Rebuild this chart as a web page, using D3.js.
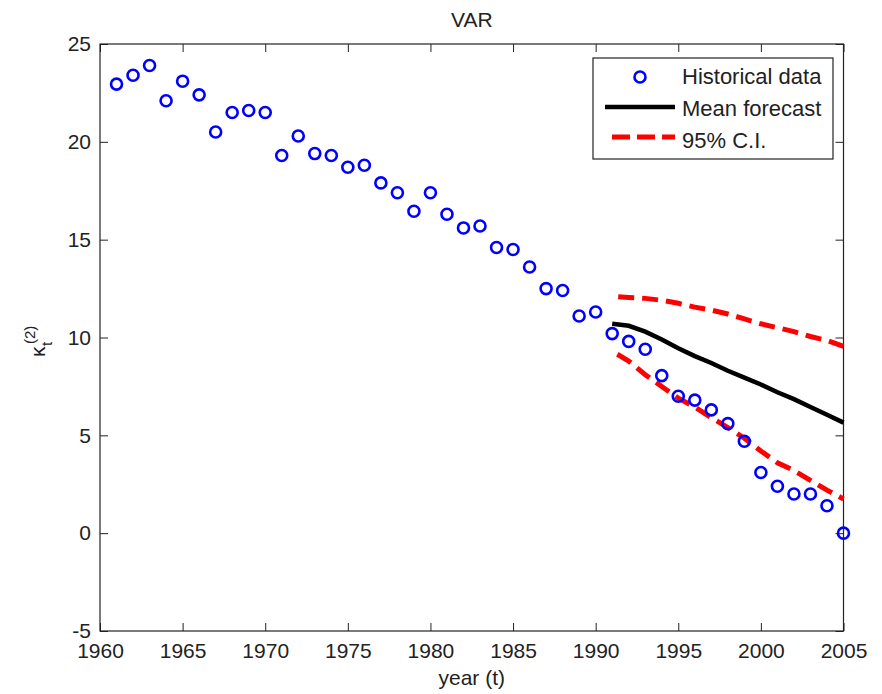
<!DOCTYPE html>
<html>
<head>
<meta charset="utf-8">
<script src="https://cdn.jsdelivr.net/npm/d3@7"></script>
<style>
  body { margin: 0; background: #fff; }
  svg { display: block; font-family: "Liberation Sans", Arial, sans-serif; }
</style>
</head>
<body>
<svg id="chart" width="882" height="694"></svg>
<script>
// Historical data (kappa_t^(2)), 1961-2005
const histYears = d3.range(1961, 2006);
const histValues = [
  22.95, 23.4, 23.9, 22.1, 23.1, 22.4, 20.5, 21.5, 21.6, 21.5,
  19.3, 20.3, 19.4, 19.3, 18.7, 18.8, 17.9, 17.4, 16.45, 17.4,
  16.3, 15.6, 15.7, 14.6, 14.5, 13.6, 12.5, 12.4, 11.1, 11.3,
  10.2, 9.8, 9.4, 8.05, 7.0, 6.8, 6.3, 5.6, 4.7, 3.1,
  2.4, 2.0, 2.0, 1.4, 0.0
];

// Forecast, 1991-2005
const fcYears = d3.range(1991, 2006);
const meanForecast = [10.7, 10.6, 10.3, 9.9, 9.45, 9.05, 8.7, 8.3, 7.95, 7.6, 7.2, 6.85, 6.45, 6.05, 5.65];
const upperCI = [12.1, 12.05, 12.0, 11.9, 11.75, 11.55, 11.4, 11.2, 10.95, 10.7, 10.5, 10.3, 10.05, 9.85, 9.55];
const lowerCI = [9.3, 8.8, 8.1, 7.5, 6.9, 6.45, 5.9, 5.4, 4.85, 4.2, 3.6, 3.2, 2.7, 2.2, 1.75];

const xTicks = d3.range(1960, 2006, 5);
const yTicks = [-5, 0, 5, 10, 15, 20, 25];

const svg = d3.select('#chart');
const plotLeft = 100, plotRight = 843.5, plotTop = 44, plotBottom = 631;
const axisColor = '#222';
const fontSize = 21;

const x = d3.scaleLinear().domain([1960, 2005]).range([plotLeft, plotRight]);
const y = d3.scaleLinear().domain([-5, 25]).range([plotBottom, plotTop]);

// axes: MATLAB style, ticks pointing inward on all four sides
const tickLen = 8;
function styleAxis(g) {
  g.select('.domain').remove();
  g.selectAll('line').attr('stroke', axisColor);
  g.selectAll('text').attr('fill', axisColor).style('font-size', fontSize + 'px');
  g.attr('font-family', null).attr('font-size', null);
}

svg.append('g')
  .attr('transform', `translate(0,${plotBottom})`)
  .call(d3.axisBottom(x).tickValues(xTicks).tickFormat(d => String(d)).tickSizeInner(-tickLen).tickSizeOuter(0).tickPadding(12))
  .call(styleAxis);

svg.append('g')
  .attr('transform', `translate(0,${plotTop})`)
  .call(d3.axisTop(x).tickValues(xTicks).tickFormat('').tickSizeInner(-tickLen).tickSizeOuter(0))
  .call(styleAxis);

svg.append('g')
  .attr('transform', `translate(${plotLeft},0)`)
  .call(d3.axisLeft(y).tickValues(yTicks).tickFormat(d => String(d)).tickSizeInner(-tickLen).tickSizeOuter(0).tickPadding(9))
  .call(styleAxis);

svg.append('g')
  .attr('transform', `translate(${plotRight},0)`)
  .call(d3.axisRight(y).tickValues(yTicks).tickFormat('').tickSizeInner(-tickLen).tickSizeOuter(0))
  .call(styleAxis);

// axes box
svg.append('rect')
  .attr('x', plotLeft).attr('y', plotTop)
  .attr('width', plotRight - plotLeft).attr('height', plotBottom - plotTop)
  .attr('fill', 'none').attr('stroke', axisColor).attr('stroke-width', 1.2);

// forecast lines
const line = d3.line().x((d, i) => x(fcYears[i])).y(d => y(d));

svg.append('path')
  .datum(upperCI)
  .attr('d', line)
  .attr('fill', 'none').attr('stroke', '#ff0000').attr('stroke-width', 5)
  .attr('stroke-dasharray', '16,8').attr('stroke-dashoffset', 18);

svg.append('path')
  .datum(lowerCI)
  .attr('d', line)
  .attr('fill', 'none').attr('stroke', '#ff0000').attr('stroke-width', 5)
  .attr('stroke-dasharray', '16,8').attr('stroke-dashoffset', 18);

svg.append('path')
  .datum(meanForecast)
  .attr('d', line)
  .attr('fill', 'none').attr('stroke', '#000').attr('stroke-width', 4.5);

// historical points
svg.append('g')
  .selectAll('circle')
  .data(histValues)
  .join('circle')
  .attr('cx', (d, i) => x(histYears[i]))
  .attr('cy', d => y(d))
  .attr('r', 5.5)
  .attr('fill', 'none')
  .attr('stroke', '#0000ff')
  .attr('stroke-width', 2.6);

// title and axis labels
svg.append('text')
  .attr('x', (plotLeft + plotRight) / 2).attr('y', 27)
  .attr('text-anchor', 'middle')
  .attr('fill', axisColor)
  .style('font-size', fontSize + 'px')
  .text('VAR');

svg.append('text')
  .attr('x', (plotLeft + plotRight) / 2).attr('y', 685)
  .attr('text-anchor', 'middle')
  .attr('fill', axisColor)
  .style('font-size', fontSize + 'px')
  .text('year (t)');

const yLabel = svg.append('g')
  .attr('transform', 'translate(45,357) rotate(-90)')
  .attr('fill', axisColor);
yLabel.append('text').attr('x', 0).attr('y', 0).style('font-size', fontSize + 'px').text('κ');
yLabel.append('text').attr('x', 11).attr('y', 7).style('font-size', '15px').text('t');
yLabel.append('text').attr('x', 13).attr('y', -10).style('font-size', '15px').text('(2)');

// legend
const legend = svg.append('g');
legend.append('rect')
  .attr('x', 593).attr('y', 58).attr('width', 240).attr('height', 101)
  .attr('fill', '#fff').attr('stroke', axisColor).attr('stroke-width', 1.2);

legend.append('circle')
  .attr('cx', 640).attr('cy', 77).attr('r', 5.5)
  .attr('fill', 'none').attr('stroke', '#0000ff').attr('stroke-width', 2.6);

legend.append('line')
  .attr('x1', 605).attr('x2', 675).attr('y1', 107).attr('y2', 107)
  .attr('stroke', '#000').attr('stroke-width', 4.5);

legend.append('line')
  .attr('x1', 612).attr('x2', 675).attr('y1', 137).attr('y2', 137)
  .attr('stroke', '#ff0000').attr('stroke-width', 5).attr('stroke-dasharray', '18,7');

const legendLabels = ['Historical data', 'Mean forecast', '95% C.I.'];
legend.selectAll('text.lab')
  .data(legendLabels)
  .join('text')
  .attr('class', 'lab')
  .attr('x', 682)
  .attr('y', (d, i) => 84 + i * 32)
  .attr('fill', axisColor)
  .style('font-size', '22px')
  .text(d => d);
</script>
</body>
</html>
